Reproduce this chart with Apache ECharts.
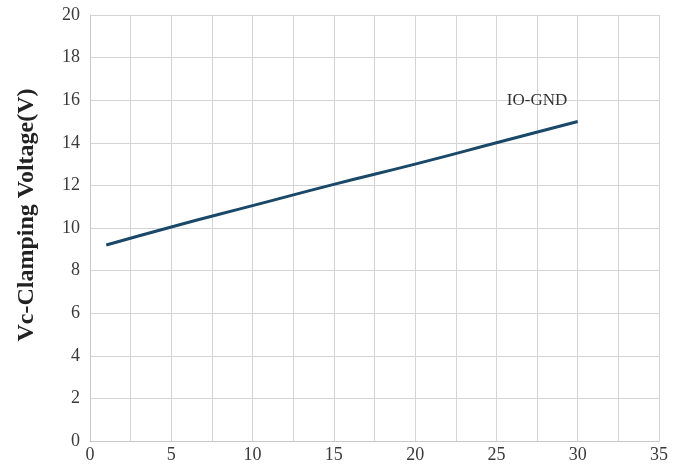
<!DOCTYPE html>
<html><head><meta charset="utf-8">
<script src="https://cdn.jsdelivr.net/npm/echarts@6/dist/echarts.min.js"></script>
<style>html,body{margin:0;padding:0;background:#fff}#c{width:687px;height:474px}</style>
</head><body><div id="c"></div>
<script>
const xValues = [1, 5, 10, 15, 20, 25, 30];
const yValues = [9.2, 10.05, 11.05, 12.05, 13.0, 14.0, 15.0];
const seriesName = 'IO-GND';
const labelPos = [27.5, 16];
const yTitle = 'Vc-Clamping Voltage(V)';

const chart = echarts.init(document.getElementById('c'));
const serif = 'Liberation Serif, Times New Roman, serif';
chart.setOption({
  animation: false,
  grid: {left: 90, right: 28, top: 15, bottom: 33},
  xAxis: {
    type: 'value', min: 0, max: 35, interval: 2.5,
    axisLine: {show: true, lineStyle: {color: '#c8c8c8'}},
    axisTick: {show: false},
    splitLine: {show: true, lineStyle: {color: '#d4d4d4', width: 1}},
    axisLabel: {fontFamily: serif, fontSize: 18, color: '#3a3a3a', margin: 5,
      formatter: v => (v % 5 === 0 ? String(v) : '')}
  },
  yAxis: {
    type: 'value', min: 0, max: 20, interval: 2,
    name: yTitle, nameLocation: 'middle', nameGap: 51,
    nameTextStyle: {fontFamily: serif, fontSize: 24, fontWeight: 'bold', color: '#222',
      padding: [0, 0, 0, 26]},
    axisLine: {show: true, lineStyle: {color: '#c8c8c8'}},
    axisTick: {show: false},
    splitLine: {show: true, lineStyle: {color: '#d4d4d4', width: 1}},
    axisLabel: {fontFamily: serif, fontSize: 18, color: '#3a3a3a', margin: 10}
  },
  series: [{
    name: seriesName, type: 'line', smooth: true, showSymbol: false,
    data: xValues.map((x, i) => [x, yValues[i]]),
    lineStyle: {color: '#1a4868', width: 3},
    markPoint: {
      symbol: 'circle', symbolSize: 0,
      data: [{coord: labelPos}],
      label: {show: true, position: 'inside', formatter: seriesName,
        fontFamily: serif, fontSize: 17, color: '#333'}
    }
  }]
});
</script></body></html>
